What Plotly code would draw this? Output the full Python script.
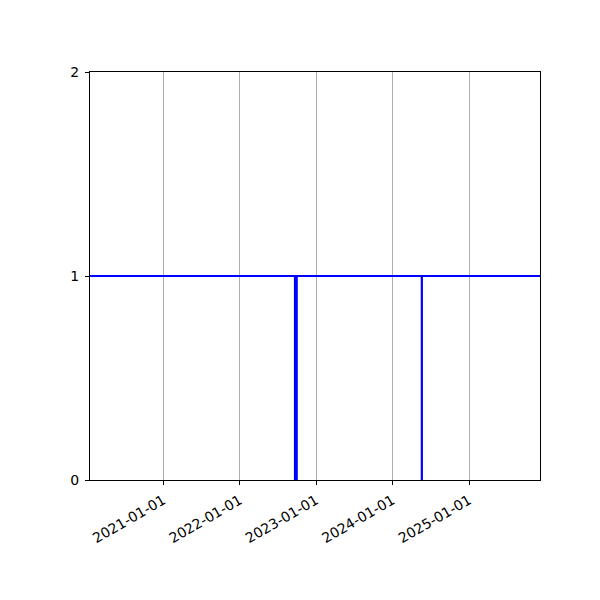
import plotly.graph_objects as go

dates = ["2020-01-17", "2022-09-22", "2022-10-01", "2024-05-20", "2024-05-21", "2025-12-06"]
values = [1, 0, 1, 0, 1, 1]
tick_dates = ["2021-01-01", "2022-01-01", "2023-01-01", "2024-01-01", "2025-01-01"]
y_ticks = [0, 1, 2]

fig = go.Figure()
fig.add_trace(go.Scatter(x=dates, y=values, mode="lines", line=dict(color="#0000ff", width=2, shape="hv"),
                         showlegend=False))

fig.update_layout(
    width=600, height=600,
    margin=dict(l=82, r=68, t=64, b=128),
    plot_bgcolor="white", paper_bgcolor="white",
    font=dict(family="DejaVu Sans", size=14, color="black"),
)
fig.update_xaxes(
    type="date", range=["2020-01-17", "2025-12-06"],
    tickvals=tick_dates, ticktext=tick_dates, tickangle=-30,
    showgrid=True, gridcolor="#b0b0b0", gridwidth=0.8,
    showline=True, linecolor="black", linewidth=1, mirror=True,
    ticks="outside", ticklen=4, tickcolor="black", zeroline=False,
    ticklabelstandoff=2,
)
fig.update_yaxes(
    range=[0, 2], tickvals=y_ticks, showgrid=False,
    showline=True, linecolor="black", linewidth=1, mirror=True,
    ticks="outside", ticklen=4, tickcolor="black", zeroline=False,
    ticklabelstandoff=3,
)
fig.write_html("out.html")
